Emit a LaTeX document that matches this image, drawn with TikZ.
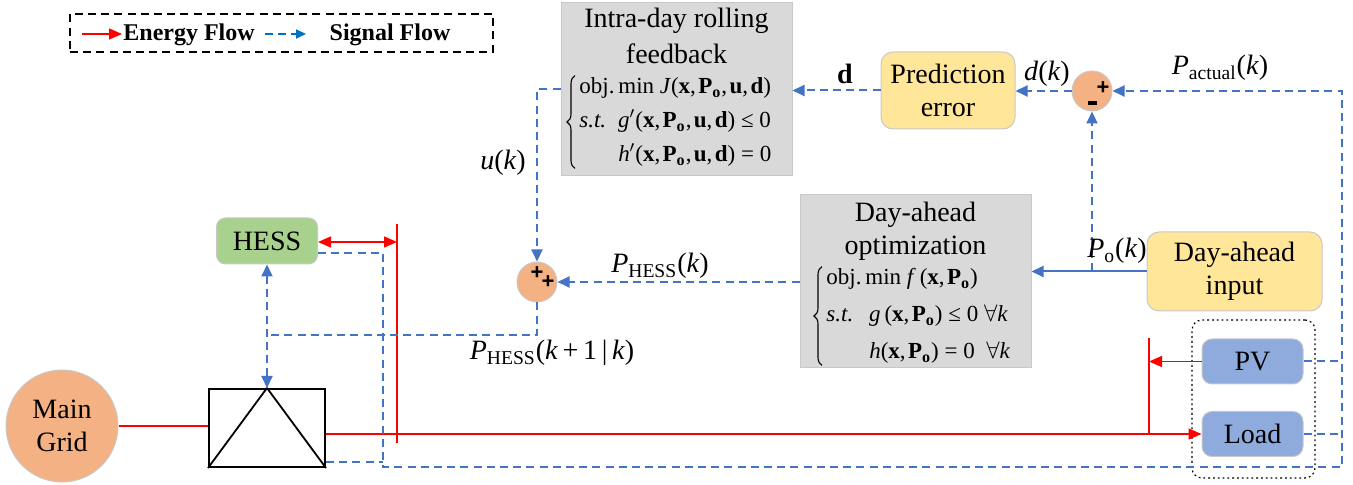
\documentclass[tikz,border=0pt]{standalone}
\usepackage{fontspec}
\setmainfont{Liberation Serif}
\newfontfamily\signfont{Liberation Sans}
\usetikzlibrary{arrows.meta,calc,decorations.pathreplacing}

\definecolor{sig}{HTML}{4472C4}
\definecolor{legblue}{HTML}{0070C0}
\definecolor{pow}{HTML}{FF0000}
\definecolor{boxgray}{HTML}{D9D9D9}
\definecolor{edgegray}{HTML}{C8C8C8}
\definecolor{yel}{HTML}{FFE699}
\definecolor{org}{HTML}{F4B183}
\definecolor{grn}{HTML}{A9D18E}
\definecolor{blu}{HTML}{8FAADC}

% symbols used in the labels
\newcommand{\vb}[1]{\textbf{#1}}
\newcommand{\Pzero}{\textbf{P}\textsubscript{\textbf{o}}}
\newcommand{\Pvar}[1]{\textit{P}\textsubscript{#1}}
\newcommand{\kk}{\textit{k}}
\newcommand{\cm}{,\kern1.2pt}

\tikzset{
  lbl/.style={font=\fontsize{14}{16.5}\selectfont, inner sep=0pt, align=center},
  eqn/.style={font=\fontsize{11.5}{14}\selectfont, inner sep=0pt, anchor=west},
  cbrace/.style={decorate, decoration={brace, amplitude=4pt}, line width=0.55pt},
  optbox/.style={fill=boxgray, draw=edgegray, line width=0.5pt, inner sep=0pt,
                 minimum width=115.5pt, minimum height=86.5pt},
  softbox/.style={draw=edgegray, line width=0.5pt, inner sep=0pt, rounded corners=5pt},
  junction/.style={circle, fill=org, draw=edgegray, line width=0.5pt,
                   minimum size=20pt, inner sep=0pt},
  sign/.style={font=\signfont\bfseries\fontsize{11}{11}\selectfont, inner sep=0pt},
  sigline/.style={sig, line width=1pt, dash pattern=on 4pt off 2.6pt},
  sigarrow/.style={sigline, -{Triangle[length=6pt,width=5.5pt]}},
  sigsolid/.style={sig, line width=1pt, -{Triangle[length=6pt,width=5.5pt]}},
  powline/.style={pow, line width=0.75pt},
  powarrow/.style={powline, -{Triangle[length=6.5pt,width=5.5pt]}},
}

\begin{document}
\begin{tikzpicture}[x=0.5pt, y=-0.5pt]
\useasboundingbox (0,0) rectangle (1353,485);

% ---------- legend ----------
\node[draw, line width=0.6pt, dash pattern=on 4pt off 2.6pt, minimum width=211.5pt,
      minimum height=19pt, inner sep=0pt] (legend) at (281.5,33) {};
\coordinate (eA) at (82,34);
\coordinate (eB) at (122,34);
\draw[powarrow] (eA) -- (eB);
\node[font=\bfseries\fontsize{12}{14}\selectfont, inner sep=0pt, anchor=west] (eTxt) at (123,35) {Energy Flow};
\coordinate (sA) at (265,34);
\coordinate (sB) at (306,34);
\draw[legblue, line width=1pt, dash pattern=on 4pt off 2.6pt, -{Triangle[length=5pt,width=4.5pt]}] (sA) -- (sB);
\node[font=\bfseries\fontsize{12}{14}\selectfont, inner sep=0pt] (sTxt) at (390,35) {Signal Flow};

% ---------- blocks ----------
\node[optbox] (intra) at (676.5,89.5) {};
\node[lbl] (intraT1) at (676.5,21) {Intra-day rolling};
\node[lbl] (intraT2) at (676.5,54) {feedback};
\node[eqn] (intraEq) at (579,122) {\begin{tabular}{@{}l@{\hspace{6pt}}l@{}}
  \multicolumn{2}{@{}l@{}}{obj.\,min \textit{J}(\vb{x}\cm\Pzero\cm\vb{u}\cm\vb{d})}\\[3pt]
  \textit{s.t.} & \textit{g}$'$(\vb{x}\cm\Pzero\cm\vb{u}\cm\vb{d}) ≤ 0\\[3pt]
  & \textit{h}$'$(\vb{x}\cm\Pzero\cm\vb{u}\cm\vb{d}) = 0
\end{tabular}};
\draw[cbrace] ([xshift=-2pt,yshift=1pt]intraEq.south west) -- ([xshift=-2pt,yshift=-1pt]intraEq.north west);

\node[optbox] (opt) at (915.5,281) {};
\node[lbl] (optT1) at (915.5,215) {Day-ahead};
\node[lbl] (optT2) at (915.5,248) {optimization};
\node[eqn] (optEq) at (826,316) {\begin{tabular}{@{}l@{\hspace{8pt}}l@{}}
  \multicolumn{2}{@{}l@{}}{obj.\,min \textit{f}\,(\vb{x}\cm\Pzero)}\\[4.5pt]
  \textit{s.t.} & \textit{g}\,(\vb{x}\cm\Pzero) ≤ 0 $\forall$\kk\\[4.5pt]
  & \textit{h}(\vb{x}\cm\Pzero) = 0 \ $\forall$\kk
\end{tabular}};
\draw[cbrace] ([xshift=-2pt,yshift=1pt]optEq.south west) -- ([xshift=-2pt,yshift=-1pt]optEq.north west);

\node[softbox, fill=yel, rounded corners=6pt, minimum width=67pt, minimum height=38.5pt, lbl]
  (pred) at (948,90.5) {Prediction\\error};
\node[softbox, fill=yel, rounded corners=6pt, minimum width=87.5pt, minimum height=39.5pt, lbl]
  (input) at (1234.5,271.5) {Day-ahead\\input};
\node[softbox, fill=grn, rounded corners=4.5pt, minimum width=50.5pt, minimum height=23pt, lbl]
  (hess) at (267,241) {HESS};
\node[softbox, fill=blu, minimum width=50.5pt, minimum height=22.5pt, lbl]
  (pv) at (1252.5,361.5) {PV};
\node[softbox, fill=blu, minimum width=50.5pt, minimum height=22.5pt, lbl]
  (load) at (1252.5,434) {Load};
\node[draw, line width=0.6pt, dash pattern=on 0.9pt off 1.5pt, rounded corners=5pt,
      minimum width=61.5pt, minimum height=79pt, inner sep=0pt] (grp) at (1253.5,399) {};

\node[circle, fill=org, draw=edgegray, line width=0.5pt, minimum size=56pt, inner sep=0pt,
      lbl, font=\fontsize{14}{16.5}\selectfont] (grid) at (62,426) {Main\\Grid};

% converter
\node[draw, line width=1pt, minimum width=58pt, minimum height=39pt, inner sep=0pt] (conv) at (267,428) {};
\draw[line width=0.9pt, line join=bevel] (conv.south west) -- (conv.north) -- (conv.south east);

% summing junctions
\node[junction] (minus) at (1092,91) {};
\node[sign] (minusP) at (1103,88) {+};
\node[inner sep=0pt] (minusM) at (1092,103) {\rule{4.5pt}{2pt}};
\node[junction] (plus) at (537,282) {};
\node[sign] (plusA) at (537,273) {+};
\node[sign] (plusB) at (548,282) {+};

% ---------- energy flow ----------
\draw[powline] (grid.east) -- (grid.east -| conv.west);
\draw[powarrow] (conv.east |- load.west) -- (load.west);
\coordinate (busAtop) at (397,224);
\coordinate (busAbot) at (397,443);
\coordinate (busAh) at (397,242);
\draw[powline] (busAtop) -- (busAbot);
\draw[powline, {Triangle[length=6.5pt,width=5.5pt]}-{Triangle[length=6.5pt,width=5.5pt]}]
  (hess.east |- busAh) -- (busAh);
\coordinate (busBtop) at (1149,338);
\coordinate (busBbot) at (1149,434);
\draw[powline] (busBtop) -- (busBbot);
\draw[powarrow] (pv.west) -- (pv.west -| busBtop);

% ---------- signal flow ----------
\coordinate (jH) at (383,253);
\coordinate (jB) at (383,467);
\coordinate (jR) at (1342,467);
\coordinate (jT) at (1342,91);
\coordinate (cJ) at (383,462);
\draw[sigarrow] (hess.east |- jH) -- (jH) -- (jB) -- (jR) -- (jT) -- (minus.east);
\draw[sigline] (pv.east) -- (pv.east -| jR);
\draw[sigline] (load.east) -- (load.east -| jR);
\draw[sigline] (conv.east |- cJ) -- (cJ);

\draw[sigarrow] (minus.west) -- (minus.west -| pred.east);
\draw[sigarrow] (pred.west) -- (pred.west -| intra.east);
\draw[sigsolid] (input.west) -- (input.west -| opt.east);
\coordinate (poJ) at (minus |- input.west);
\draw[sigarrow] (poJ) -- (minus.south);

\coordinate (uJ) at (plus |- intra.west);
\draw[sigarrow] (intra.west) -- (uJ) -- (plus.north);
\draw[sigarrow] (opt.west |- plus) -- (plus.east);
\coordinate (pJ) at (537,335);
\coordinate (hJ) at (267,335);
\draw[sigline] (plus.south) -- (pJ) -- (hJ);
\draw[sigline, {Triangle[length=6pt,width=5.5pt]}-{Triangle[length=6pt,width=5.5pt]}] (hess.south) -- (conv.north);

% ---------- labels ----------
\node[lbl] (lblPact) at (1220,68) {\Pvar{actual}(\kk)};
\node[lbl] (lbldk) at (1047,74) {\textit{d}(\kk)};
\node[lbl] (lbld) at (845,74) {\textbf{d}};
\node[lbl] (lblPo) at (1117,251) {\Pvar{o}(\kk)};
\node[lbl] (lbluk) at (503,163) {\textit{u}(\kk)};
\node[lbl] (lblPh) at (660,266) {\Pvar{HESS}(\kk)};
\node[lbl] (lblPh1) at (552,353) {\Pvar{HESS}(\kk\,+\,1\,|\,\kk)};
\end{tikzpicture}
\end{document}
